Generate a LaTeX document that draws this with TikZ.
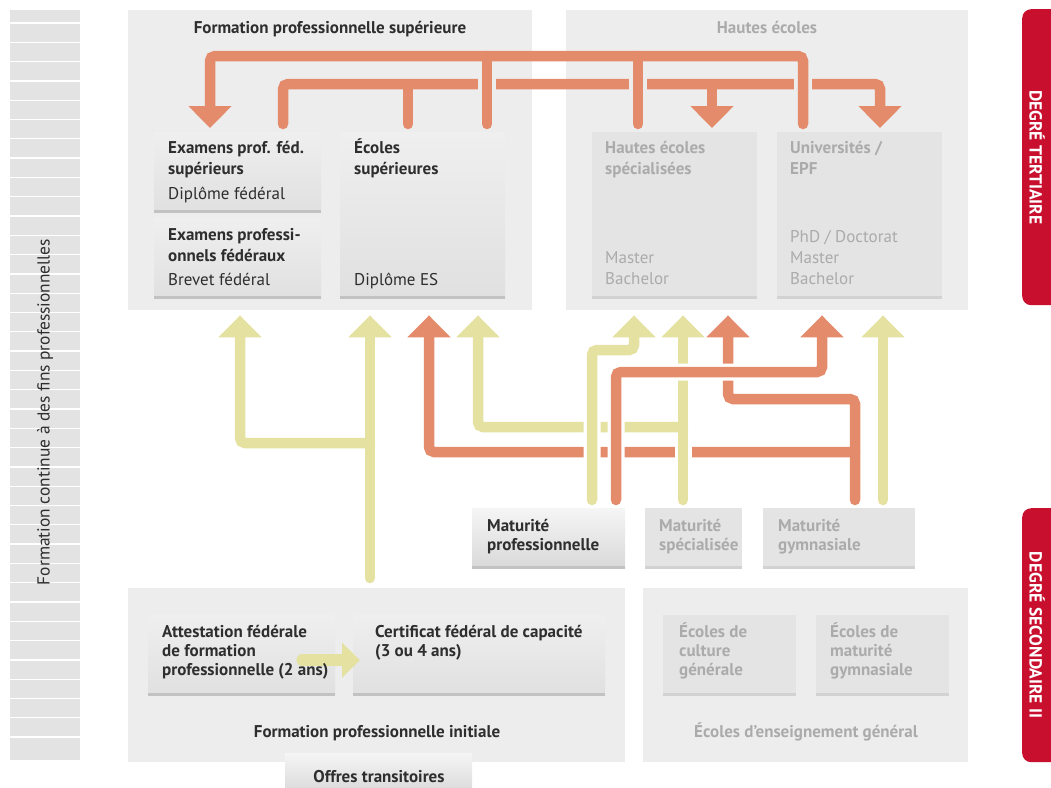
\documentclass[tikz,border=0pt]{standalone}
\usepackage{fontspec}
\setmainfont{PT Sans}
\usetikzlibrary{arrows.meta}
\definecolor{panelgrey}{HTML}{EDEDED}
\definecolor{stripgrey}{HTML}{E3E3E3}
\definecolor{boxtop}{HTML}{EFEFEF}
\definecolor{boxbottom}{HTML}{E0E0E0}
\definecolor{raisedtop}{HTML}{F5F5F5}
\definecolor{raisedbottom}{HTML}{D9D9D9}
\definecolor{boxline}{HTML}{C2C2C2}
\definecolor{paleboxgrey}{HTML}{E4E4E4}
\definecolor{paleline}{HTML}{D2D2D2}
\definecolor{darktext}{HTML}{2E2E2E}
\definecolor{greytext}{HTML}{ABABAB}
\definecolor{arrowyellow}{HTML}{E4E1A1}
\definecolor{arroworange}{HTML}{E48B6C}
\definecolor{degreered}{HTML}{C8102E}
\newcommand\firstline{\rule{0pt}{17pt}}
\begin{document}
\begin{tikzpicture}[x=1pt,y=-1pt,line cap=round]
        % Styles
        \tikzstyle{panel}=[fill=panelgrey,inner sep=0pt,anchor=north west]
        \tikzstyle{dark box}=[inner sep=0pt,anchor=north west,top color=boxtop,bottom color=boxbottom,
            path picture={\draw[boxline,line width=4pt,line cap=butt] (path picture bounding box.south west) -- (path picture bounding box.south east);}]
        \tikzstyle{raised box}=[dark box,top color=raisedtop,bottom color=raisedbottom]
        \tikzstyle{pale box}=[inner sep=0pt,anchor=north west,fill=paleboxgrey,
            path picture={\draw[paleline,line width=4pt,line cap=butt] (path picture bounding box.south west) -- (path picture bounding box.south east);}]
        \tikzstyle{box title}=[inner sep=0pt,anchor=north west,align=left,text=darktext,font=\fontsize{17}{19}\selectfont\bfseries]
        \tikzstyle{tall title}=[box title,font=\fontsize{17}{21}\selectfont\bfseries]
        \tikzstyle{grey title}=[box title,text=greytext]
        \tikzstyle{grey tall title}=[tall title,text=greytext]
        \tikzstyle{box text}=[inner sep=0pt,anchor=base west,text=darktext,font=\fontsize{17}{19}\selectfont]
        \tikzstyle{grey list}=[inner sep=0pt,anchor=north west,align=left,text=greytext,font=\fontsize{17}{21}\selectfont]
        \tikzstyle{heading}=[inner sep=0pt,anchor=base,text=darktext,font=\fontsize{17}{19}\selectfont\bfseries]
        \tikzstyle{degree text}=[inner sep=0pt,text=white,font=\fontsize{17.5}{17.5}\selectfont\bfseries,rotate=-90]
        \tikzstyle{orange line}=[arroworange,line width=10.5pt,rounded corners=5pt]
        \tikzstyle{orange arrow}=[orange line,-{Triangle[width=42pt,length=22pt]}]
        \tikzstyle{yellow arrow}=[arrowyellow,line width=10.5pt,rounded corners=5pt,-{Triangle[width=42pt,length=22pt]}]
        \tikzstyle{white halo}=[preaction={draw=white,line width=17pt,line cap=butt,-}]
        \tikzstyle{grey halo}=[panelgrey,line width=18pt,line cap=butt]
        \useasboundingbox (0,0) rectangle (1051,787);
        %left strip
        \node[panel,fill=stripgrey,minimum width=70,minimum height=750] (strip) at (10,10) {};
        \foreach \i in {0,...,37}
            \draw[white,line width=1.3pt,line cap=butt] (10,{23+19.3*\i}) -- (80,{23+19.3*\i});
        \node[rotate=90,inner sep=0pt,text=darktext,font=\fontsize{17.4}{19}\selectfont] (strip-text) at (45,412) {Formation continue à des fins professionnelles};
        %degree bars
        \node[panel,fill=degreered,rounded corners=9pt,minimum width=40,minimum height=296] (tertiary) at (1022,9) {};
        \node[degree text] (tertiary-text) at ([xshift=-5pt]tertiary.center) {DEGRÉ TERTIAIRE};
        \node[panel,fill=degreered,rounded corners=9pt,minimum width=40,minimum height=254] (secondary) at (1022,508) {};
        \node[degree text] (secondary-text) at ([xshift=-5pt]secondary.center) {DEGRÉ SECONDAIRE II};
        %panels
        \node[panel,minimum width=404,minimum height=300] (fps) at (128,10) {};
        \node[panel,minimum width=402,minimum height=300] (he) at (566,10) {};
        \node[panel,minimum width=497,minimum height=174] (fpi) at (128,588) {};
        \node[panel,minimum width=325,minimum height=174] (eeg) at (643,588) {};
        %boxes
        \node[dark box,minimum width=167,minimum height=80] (eps) at (154,132) {};
        \node[dark box,minimum width=167,minimum height=80] (epf) at (154,218) {};
        \node[dark box,minimum width=165,minimum height=166] (es) at (340,132) {};
        \node[pale box,minimum width=165,minimum height=166] (hes) at (592,132) {};
        \node[pale box,minimum width=165,minimum height=166] (uni) at (777,132) {};
        \node[raised box,minimum width=153,minimum height=60] (mp) at (472,508) {};
        \node[pale box,minimum width=97,minimum height=60] (ms) at (645,508) {};
        \node[pale box,minimum width=152,minimum height=60] (mg) at (763,508) {};
        \node[dark box,minimum width=187,minimum height=80] (afp) at (148,615) {};
        \node[dark box,minimum width=252,minimum height=80] (cfc) at (353,615) {};
        \node[raised box,minimum width=187,minimum height=40] (ot) at (285,753) {};
        \node[pale box,minimum width=133,minimum height=80] (ecg) at (663,615) {};
        \node[pale box,minimum width=133,minimum height=80] (emg) at (816,615) {};
        %links inside the tertiary level
        \coordinate (rail-a) at ([yshift=-46pt]fps.north west);
        \coordinate (rail-b) at ([yshift=-74pt]fps.north west);
        \coordinate (eps-in) at ([xshift=56pt,yshift=4pt]eps.north west);
        \coordinate (eps-out) at ([xshift=129pt,yshift=8pt]eps.north west);
        \coordinate (es-out1) at ([xshift=147pt,yshift=8pt]es.north west);
        \coordinate (es-out2) at ([xshift=68pt,yshift=8pt]es.north west);
        \coordinate (hes-out) at ([xshift=46pt,yshift=8pt]hes.north west);
        \coordinate (hes-in) at ([xshift=120pt,yshift=4pt]hes.north west);
        \coordinate (uni-out) at ([xshift=26pt,yshift=8pt]uni.north west);
        \coordinate (uni-in) at ([xshift=103pt,yshift=4pt]uni.north west);
        \draw[orange arrow] (eps-out) -- (eps-out |- rail-b) -| (uni-in);
        \draw[orange line] (es-out2) -- (es-out2 |- rail-b);
        \draw[orange arrow] (hes-in |- rail-b) -- (hes-in);
        \foreach \c in {es-out1,hes-out,uni-out}
            \draw[grey halo] (\c) -- (\c |- rail-a);
        \draw[orange arrow] (uni-out) -- (uni-out |- rail-a) -| (eps-in);
        \draw[orange line] (es-out1) -- (es-out1 |- rail-a);
        \draw[orange line] (hes-out) -- (hes-out |- rail-a);
        %links from the secondary level
        \coordinate (fpi-out) at ([xshift=242pt,yshift=10pt]fpi.north west);
        \coordinate (mp-y) at ([xshift=120pt,yshift=8pt]mp.north west);
        \coordinate (mp-o) at ([xshift=144pt,yshift=8pt]mp.north west);
        \coordinate (ms-y) at ([xshift=38pt,yshift=8pt]ms.north west);
        \coordinate (mg-o) at ([xshift=92pt,yshift=8pt]mg.north west);
        \coordinate (mg-y) at ([xshift=120pt,yshift=8pt]mg.north west);
        \coordinate (epf-in) at ([xshift=112pt,yshift=-5pt]fps.south west);
        \coordinate (es-in1) at ([xshift=242pt,yshift=-5pt]fps.south west);
        \coordinate (es-in2) at ([xshift=301pt,yshift=-5pt]fps.south west);
        \coordinate (es-in3) at ([xshift=350pt,yshift=-5pt]fps.south west);
        \coordinate (hes-in1) at ([xshift=68pt,yshift=-5pt]he.south west);
        \coordinate (hes-in2) at ([xshift=117pt,yshift=-5pt]he.south west);
        \coordinate (hes-in3) at ([xshift=162pt,yshift=-5pt]he.south west);
        \coordinate (uni-in1) at ([xshift=256pt,yshift=-5pt]he.south west);
        \coordinate (uni-in2) at ([xshift=317pt,yshift=-5pt]he.south west);
        \draw[yellow arrow] (fpi-out) -- (es-in1);
        \draw[yellow arrow] (fpi-out) ++(0,-135) -| (epf-in);
        \draw[yellow arrow] (mg-y) -- (uni-in2);
        \draw[orange arrow] (mg-o) -- ++(0,-101) -| (hes-in3);
        \draw[orange arrow] (mg-o) ++(0,-48) -| (es-in2);
        \draw[yellow arrow,white halo] (ms-y) -- (hes-in2);
        \draw[yellow arrow] (ms-y) ++(0,-73) -| (es-in3);
        \draw[yellow arrow,white halo] (mp-y) -- ++(0,-150) -| (hes-in1);
        \draw[orange arrow,white halo] (mp-o) -- ++(0,-128) -| (uni-in1);
        \draw[yellow arrow,line width=12pt,-{Triangle[width=34pt,length=18pt]}] ([xshift=-33pt,yshift=-5pt]afp.east) -- ([xshift=7pt,yshift=-5pt]cfc.west);
        %texts
        \node[heading] (fps-title) at (330,33) {Formation professionnelle supérieure};
        \node[heading,text=greytext] (he-title) at (767,33) {Hautes écoles};
        \node[tall title] (eps-t) at (168,136) {\firstline Examens prof. féd.\\supérieurs};
        \node[box text] (eps-s) at (168,199) {Diplôme fédéral};
        \node[tall title] (epf-t) at (168,223) {\firstline Examens professi-\\onnels fédéraux};
        \node[box text] (epf-s) at (168,285) {Brevet fédéral};
        \node[tall title] (es-t) at (354,136) {\firstline Écoles\\supérieures};
        \node[box text] (es-s) at (354,285) {Diplôme ES};
        \node[grey tall title] (hes-t) at (605,136) {\firstline Hautes écoles\\spécialisées};
        \node[grey list] (hes-s) at (605,246) {\firstline Master\\Bachelor};
        \node[grey tall title] (uni-t) at (790,136) {\firstline Universités /\\EPF};
        \node[grey list] (uni-s) at (790,225) {\firstline PhD / Doctorat\\Master\\Bachelor};
        \node[box title] (mp-t) at (487,514) {\firstline Maturité\\professionnelle};
        \node[grey title] (ms-t) at (659,514) {\firstline Maturité\\spécialisée};
        \node[grey title] (mg-t) at (778,514) {\firstline Maturité\\gymnasiale};
        \node[box title] (afp-t) at (162,620) {\firstline Attestation fédérale\\de formation\\professionnelle (2 ans)};
        \node[box title] (cfc-t) at (375,620) {\firstline Certificat fédéral de capacité\\(3 ou 4 ans)};
        \node[heading] (fpi-title) at (377,737) {Formation professionnelle initiale};
        \node[heading] (ot-t) at (379,782) {Offres transitoires};
        \node[grey title] (ecg-t) at (679,620) {\firstline Écoles de\\culture\\générale};
        \node[grey title] (emg-t) at (830,620) {\firstline Écoles de\\maturité\\gymnasiale};
        \node[heading,text=greytext] (eeg-title) at (806,737) {Écoles d’enseignement général};
\end{tikzpicture}
\end{document}
